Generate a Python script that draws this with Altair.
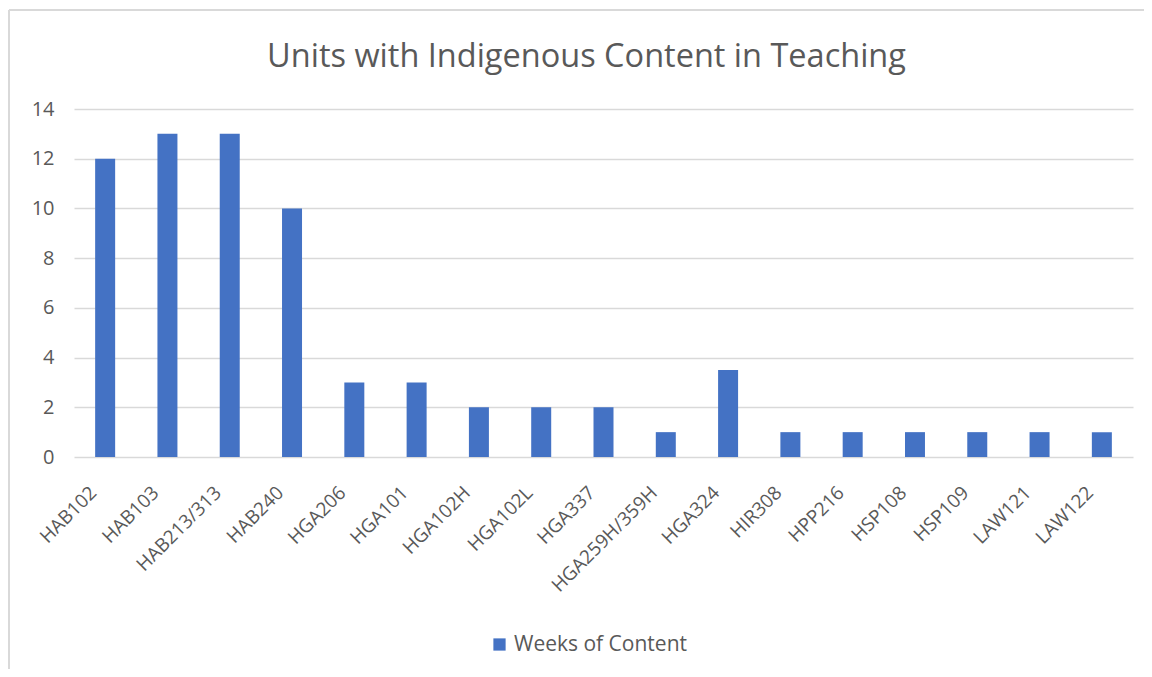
import altair as alt
import pandas as pd

units = ["HAB102", "HAB103", "HAB213/313", "HAB240", "HGA206", "HGA101", "HGA102H",
         "HGA102L", "HGA337", "HGA259H/359H", "HGA324", "HIR308", "HPP216", "HSP108",
         "HSP109", "LAW121", "LAW122"]
weeks = [12, 13, 13, 10, 3, 3, 2, 2, 2, 1, 3.5, 1, 1, 1, 1, 1, 1]
series = ["Weeks of Content"] * len(units)

df = pd.DataFrame({"Unit": units, "Weeks": weeks, "Series": series})

FONT = "Open Sans"
GREY = "#595959"
GRID = "#d9d9d9"

bars = alt.Chart(df).mark_bar(size=20, color="#4472C4").encode(
    x=alt.X("Unit:N", sort=units, title=None,
            scale=alt.Scale(paddingInner=0, paddingOuter=0),
            axis=alt.Axis(labelAngle=-45, labelFontSize=19, labelColor=GREY,
                          labelFont=FONT, ticks=False, domain=False, grid=False,
                          labelPadding=26, labelOffset=-18)),
    y=alt.Y("Weeks:Q", title=None,
            scale=alt.Scale(domain=[0, 14]),
            axis=alt.Axis(values=[0, 2, 4, 6, 8, 10, 12, 14], labelFontSize=20,
                          labelColor=GREY, labelFont=FONT, ticks=False, domain=False,
                          gridColor=GRID, gridWidth=1.5, labelPadding=20)),
    color=alt.Color("Series:N",
                    scale=alt.Scale(domain=["Weeks of Content"], range=["#4472C4"]),
                    legend=alt.Legend(title=None, orient="none", legendX=415, legendY=525,
                                      symbolType="square", symbolSize=150,
                                      symbolStrokeWidth=0, labelLimit=400,
                                      labelFontSize=21, labelColor=GREY, labelFont=FONT)),
)

frame_top = alt.Chart(df).mark_rule(color="#d9d9d9", strokeWidth=2).encode(
    x=alt.value(-65), x2=alt.value(1100), y=alt.value(-99))
frame_left = alt.Chart(df).mark_rule(color="#d9d9d9", strokeWidth=2).encode(
    x=alt.value(-65), y=alt.value(-99), y2=alt.value(580))

chart = alt.layer(frame_top, frame_left, bars).properties(
    width=1059, height=348,
    background="white",
    title=alt.TitleParams("Units with Indigenous Content in Teaching", fontSize=32.5,
                          font=FONT, fontWeight="normal", color=GREY, anchor="middle",
                          dx=-17, offset=-64),
    autosize=alt.AutoSizeParams(type="none"),
    padding={"left": 66, "top": 101, "right": 11, "bottom": 212},
).configure_view(stroke=None)

chart.save("out.html", embed_options={"renderer": "svg", "actions": False})
